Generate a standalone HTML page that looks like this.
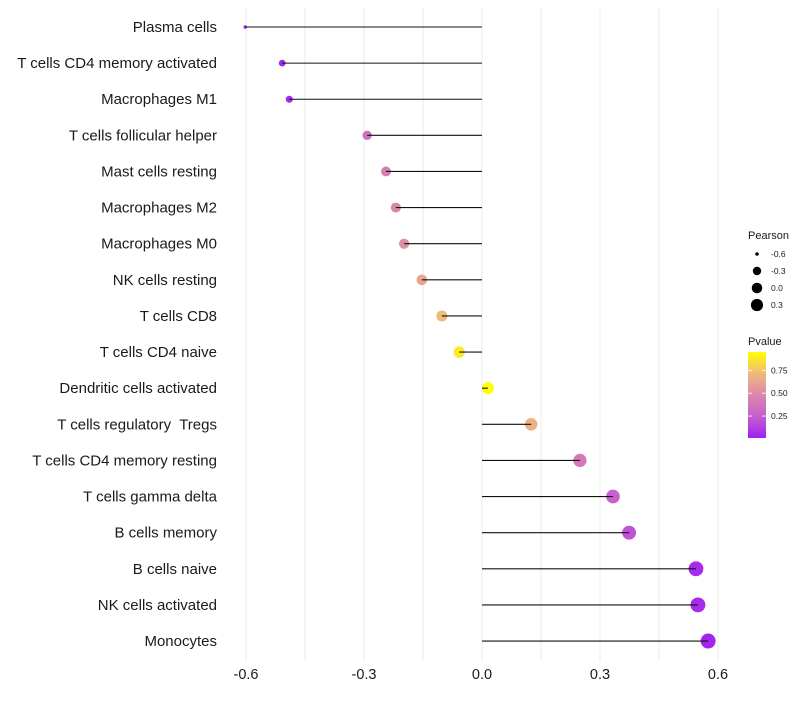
<!DOCTYPE html>
<html><head><meta charset="utf-8"><style>
body{margin:0;background:#fff;width:800px;height:700px;overflow:hidden;font-family:"Liberation Sans",sans-serif;}
text{white-space:pre;}
</style></head><body>
<svg id="chart" width="800" height="700" xmlns="http://www.w3.org/2000/svg" font-family="Liberation Sans, sans-serif"></svg>
<script>
const categories=["Plasma cells","T cells CD4 memory activated","Macrophages M1","T cells follicular helper","Mast cells resting","Macrophages M2","Macrophages M0","NK cells resting","T cells CD8","T cells CD4 naive","Dendritic cells activated","T cells regulatory  Tregs","T cells CD4 memory resting","T cells gamma delta","B cells memory","B cells naive","NK cells activated","Monocytes"];
const pearson=[-0.602,-0.508,-0.49,-0.292,-0.244,-0.219,-0.198,-0.153,-0.102,-0.058,0.015,0.125,0.249,0.333,0.374,0.544,0.549,0.575];
const pvalues=[0.02,0.03,0.04,0.35,0.42,0.47,0.52,0.62,0.72,0.88,0.95,0.68,0.4,0.25,0.2,0.05,0.05,0.03];
const xTicks=[-0.6,-0.3,0.0,0.3,0.6];
const xTickLabels=["-0.6","-0.3","0.0","0.3","0.6"];
const xMinor=[-0.45,-0.15,0.15,0.45];
const sizeLegend=[-0.6,-0.3,0.0,0.3];
const colorLegendTicks=[0.25,0.5,0.75];

const svg=document.getElementById('chart');
const NS='http://www.w3.org/2000/svg';
function mk(t,a,p){const e=document.createElementNS(NS,t);for(const k in a)e.setAttribute(k,a[k]);(p||svg).appendChild(e);return e;}
const xS=v=>482+v*393.3;
const yS=i=>27+i*36.12;
const sMin=Math.min(...pearson),sMax=Math.max(...pearson);
const rS=v=>{const t=Math.max(0,(v-sMin)/(sMax-sMin));return 0.6+1.15*(1+5*Math.sqrt(t));};
const stops=[[0,[160,32,240]],[0.25,[198,95,208]],[0.5,[220,135,170]],[0.75,[240,185,125]],[1,[255,255,0]]];
const pMin=0.01,pMax=0.95;
function col(p){let t=Math.max(0,Math.min(1,(p-pMin)/(pMax-pMin)));for(let i=1;i<stops.length;i++){if(t<=stops[i][0]){const a=stops[i-1],b=stops[i];const f=(t-a[0])/(b[0]-a[0]);const c=a[1].map((v,j)=>Math.round(v+(b[1][j]-v)*f));return `rgb(${c})`;}}return 'rgb(255,255,0)';}

const grid=mk('g',{});


xMinor.concat(xTicks).forEach(v=>{const l=mk('line',{x1:xS(v),x2:xS(v),y1:8,y2:661,stroke:'#ebebeb','stroke-width':1},grid);});

categories.forEach((c,i)=>{
 const t=mk('text',{x:217,y:yS(i)+5,'text-anchor':'end','font-size':15,fill:'#1a1a1a'});
 t.textContent=c;
 
 
 const d=mk('circle',{cx:xS(pearson[i]),cy:yS(i),r:rS(pearson[i]),fill:col(pvalues[i])});
 
 
 const s=mk('line',{x1:xS(0),x2:xS(pearson[i]),y1:yS(i),y2:yS(i),stroke:'#111','stroke-width':1.1});
 
 
});
xTicks.forEach((v,i)=>{const t=mk('text',{x:xS(v),y:679,'text-anchor':'middle','font-size':14.5,fill:'#1a1a1a'});t.textContent=xTickLabels[i];});

const lt=mk('text',{x:748,y:239,'font-size':11,fill:'#1a1a1a'});lt.textContent='Pearson';


sizeLegend.forEach((v,i)=>{const y=254+i*17;const c=mk('circle',{cx:757,cy:y,r:rS(v)*0.9,fill:'#000'});
 const t=mk('text',{x:771,y:y+3,'font-size':8.5,fill:'#1a1a1a'});t.textContent=v.toFixed(1);});

const ct=mk('text',{x:748,y:345,'font-size':11,fill:'#1a1a1a'});ct.textContent='Pvalue';


const defs=mk('defs',{});const g=mk('linearGradient',{id:'pg',x1:0,y1:1,x2:0,y2:0},defs);
stops.forEach(s=>mk('stop',{offset:s[0],'stop-color':`rgb(${s[1]})`},g));
const barTop=352,barBot=438;
const bar=mk('rect',{x:748,y:barTop,width:18,height:barBot-barTop,fill:'url(#pg)'});


const yP=p=>barBot-(p-pMin)/(pMax-pMin)*(barBot-barTop);
colorLegendTicks.forEach(p=>{const y=yP(p);mk('line',{x1:748,x2:752,y1:y,y2:y,stroke:'#fff','stroke-width':0.8});mk('line',{x1:762,x2:766,y1:y,y2:y,stroke:'#fff','stroke-width':0.8});
 const t=mk('text',{x:771,y:y+3,'font-size':8.5,fill:'#1a1a1a'});t.textContent=p.toFixed(2);});
</script>
</body></html>
